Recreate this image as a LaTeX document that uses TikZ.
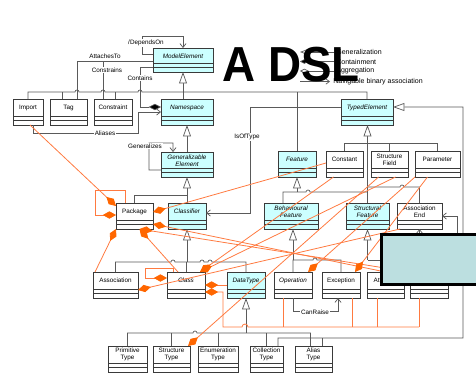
\documentclass[tikz,border=0pt]{standalone}
\usepackage{fontspec}
\setmainfont{Liberation Sans}
\usetikzlibrary{arrows.meta,calc,fit}
\definecolor{cyanbox}{HTML}{CCFFFF}
\definecolor{boxedge}{HTML}{3A3A3A}
\definecolor{wire}{HTML}{5A5A5A}
\definecolor{orwire}{HTML}{FF7A40}
\definecolor{ordia}{HTML}{FF6600}
\definecolor{coverfill}{HTML}{BCDFE0}

\tikzset{
  umlframe/.style={draw=boxedge, line width=0.5pt, inner sep=0pt, outer sep=0pt},
  umltext/.style={font=\fontsize{3.6}{4.1}\selectfont, align=center, inner sep=0pt},
  assoclabel/.style={font=\fontsize{3.6}{4.1}\selectfont, fill=white, inner sep=0.4pt},
  legendtext/.style={font=\fontsize{4}{4.5}\selectfont, inner sep=0pt, anchor=west},
  wireline/.style={draw=wire, line width=0.4pt},
  genarrow/.style={wireline, -{Triangle[length=6.5pt,width=4.5pt,fill=white]}},
  navarrow/.style={wireline, -{Straight Barb[length=2.2pt,width=3.5pt]}},
  ownline/.style={draw=orwire, line width=0.45pt},
  owner/.style={ownline, {Diamond[length=7.5pt,width=4.2pt,fill=ordia,color=ordia]}-},
}

% class box: name, x1, y1, x2, y2, fill, label
\newcommand\umlclass[7]{%
  \node[umlframe, fill=#6, fit={(#2,#3) (#4,#5)}] (#1) {};
  \draw[umlframe] ($(#1.south west)+(0,-9)$) -- ($(#1.south east)+(0,-9)$);
  \draw[umlframe] ($(#1.south west)+(0,-4.5)$) -- ($(#1.south east)+(0,-4.5)$);
  \node[umltext] (#1-name) at ($(#1.north)+(0,8.5)$) {#7};
}

\begin{document}
\begin{tikzpicture}[x=0.02cm, y=-0.02cm]
\useasboundingbox[fill=white] (0,0) rectangle (476,376);

% ---------- classes ----------
\umlclass{ModelElement}{153}{48}{213}{72}{cyanbox}{\itshape ModelElement}
\umlclass{Import}{13}{99}{43}{125}{white}{Import}
\umlclass{Tag}{50}{99}{87}{125}{white}{Tag}
\umlclass{Constraint}{94}{99}{132}{125}{white}{Constraint}
\umlclass{Namespace}{161}{99}{213}{125}{cyanbox}{\itshape Namespace}
\umlclass{TypedElement}{341}{99}{393}{125}{cyanbox}{\itshape TypedElement}
\umlclass{GenEl}{161}{152}{213}{177}{cyanbox}{\itshape Generalizable\\\itshape Element}
\umlclass{Feature}{278}{151}{316}{177}{cyanbox}{\itshape Feature}
\umlclass{Constant}{326}{151}{363}{177}{white}{Constant}
\umlclass{StructureField}{371}{151}{408}{177}{white}{Structure\\Field}
\umlclass{Parameter}{415}{151}{460}{177}{white}{Parameter}
\umlclass{Package}{116}{203}{153}{229}{white}{Package}
\umlclass{Classifier}{168}{203}{206}{229}{cyanbox}{\itshape Classifier}
\umlclass{BehFeature}{264}{203}{318}{229}{cyanbox}{\itshape Behavioural\\\itshape Feature}
\umlclass{StructFeature}{346}{203}{389}{229}{cyanbox}{\itshape Structural\\\itshape Feature}
\umlclass{AssocEnd}{397}{203}{442}{229}{white}{Association\\End}
\umlclass{Association}{93}{272}{138}{298}{white}{Association}
\umlclass{Class}{167}{272}{205}{298}{white}{\itshape Class}
\umlclass{DataType}{227}{272}{265}{298}{cyanbox}{\itshape DataType}
\umlclass{Operation}{274}{272}{312}{298}{white}{\itshape Operation}
\umlclass{Exception}{322}{272}{360}{298}{white}{Exception}
\umlclass{Attribute}{367}{272}{404}{298}{white}{Attribute}
\umlclass{Reference}{410}{272}{448}{298}{white}{}
\umlclass{PrimitiveType}{108}{346}{147}{372}{white}{Primitive\\Type}
\umlclass{StructureType}{153}{346}{190}{372}{white}{Structure\\Type}
\umlclass{EnumerationType}{198}{346}{238}{372}{white}{Enumeration\\Type}
\umlclass{CollectionType}{250}{346}{283}{372}{white}{Collection\\Type}
\umlclass{AliasType}{295}{346}{332}{372}{white}{Alias\\Type}

% ---------- bus heights ----------
\coordinate (gbus) at (0,92);
\coordinate (tebus) at (0,143);
\coordinate (fbus) at (0,192);
\coordinate (cbus) at (0,262);
\coordinate (bbus) at (0,260);
\coordinate (dbus) at (0,333);

% ---------- generalizations ----------
\draw[genarrow] (Namespace.north -| ModelElement.south) -- (ModelElement.south);
\draw[wireline] (Import.north) -- (28,92) -- (75,92) arc(180:0:0.04cm)
  -- (101,92) arc(180:0:0.04cm) -- (138,92) arc(180:0:0.04cm)
  -- (gbus -| TypedElement.north) -- (TypedElement.north);
\draw[wireline] ($(Tag.north)+(-6,0)$) -- ++(0,-7);
\draw[wireline] ($(Constraint.north)+(2,0)$) -- ++(0,-7);
\draw[wireline] (Feature.north) -- (Feature.north |- gbus);

\draw[genarrow] (GenEl.north) -- (GenEl.north |- Namespace.south);
\draw[genarrow] (Classifier.north) -- (Classifier.north |- GenEl.south);
\draw[wireline] (Package.north) |- ($(Classifier.north)+(0,-8)$);

\draw[genarrow] (StructFeature.north) -- (StructFeature.north |- TypedElement.south);
\draw[wireline] (Constant.north) |- (tebus -| Parameter.north) -- (Parameter.north);
\draw[wireline] (StructureField.north) -- (StructureField.north |- tebus);
\draw[wireline] (AssocEnd.north) -- (419.5,187) -- (404,187) arc(0:180:0.04cm)
  -- (367.5,187);

\draw[genarrow] ($(CollectionType.north)+(11.5,0)$) -- (278,338) -- (463,338)
  |- ($(TypedElement.north east)+(0,8)$);
\draw[wireline] ($(AliasType.north)+(8.5,0)$) -- ++(0,-8);

\draw[genarrow] (Feature.south |- fbus) -- (Feature.south);
\draw[wireline] ($(BehFeature.north)+(-8,0)$) -- (283,192) -- (306,192) arc(180:0:0.04cm)
  -- (fbus -| StructFeature.north);

\draw[genarrow] (Classifier.south |- cbus) -- (Classifier.south);
\draw[wireline] (Association.north) -- (115.5,262) -- (171,262) arc(180:0:0.04cm)
  -- (200,262) arc(180:0:0.04cm) -- (208,262) arc(180:0:0.04cm)
  -- (cbus -| DataType.north) -- (DataType.north);
\draw[wireline] (Class.north) -- (Class.north |- cbus);

\draw[genarrow] (Operation.north |- bbus) -- (Operation.north |- BehFeature.south);
\draw[wireline] (Operation.north) -- (293,260) -- (313,260) arc(180:0:0.04cm)
  -- (bbus -| Exception.north) -- (Exception.north);
\draw[genarrow] (StructFeature.south |- bbus) -- (StructFeature.south);
\draw[wireline] (Attribute.north) |- (bbus -| StructFeature.south);
\draw[wireline] (Reference.north) |- (bbus -| StructFeature.south);

\draw[genarrow] (DataType.south |- dbus) -- (DataType.south);
\draw[wireline] (PrimitiveType.north) -- (127.5,333) -- (193,333) arc(180:0:0.04cm)
  -- (310.5,333) -- ($(AliasType.north)+(-3,0)$);
\draw[wireline] (StructureType.north) -- (StructureType.north |- dbus);
\draw[wireline] (EnumerationType.north) -- (EnumerationType.north |- dbus);
\draw[wireline] (CollectionType.north) -- (CollectionType.north |- dbus);

% ---------- associations ----------
\draw[navarrow] ($(ModelElement.north west)+(0,6)$) -- (142,54) -- (142,36) -| (ModelElement.north);
\node[assoclabel] (dependsOn) at (146,43) {/DependsOn};
\draw[wireline] ($(Tag.north)+(8.5,0)$) |- ($(ModelElement.north west)+(0,13)$);
\node[assoclabel] (attachesTo) at (105,56) {AttachesTo};
\draw[wireline] ($(Constraint.north)+(-10,0)$) -- ++(0,-38);
\node[assoclabel] (constrains) at (107,70) {Constrains};
\draw[wireline, {Diamond[length=7pt,width=3.6pt,fill=black]}-]
  ($(Namespace.north west)+(0,8)$) -- (140,107) -- (140,67) -- ($(ModelElement.north west)+(0,19)$);
\node[assoclabel] (contains) at (140,78) {Contains};
\draw[navarrow] ($(Import.south)+(5,0)$) |- (138,133) |- ($(Namespace.north west)+(0,13)$);
\node[assoclabel] (aliases) at (105,133) {Aliases};
\draw[navarrow] ($(GenEl.north west)+(0,18)$) -- (149,170) -- (149,143) -| ($(GenEl.north west)+(12,0)$);
\node[assoclabel] (generalizes) at (145,146) {Generalizes};
\draw[navarrow] ($(TypedElement.north west)+(0,8)$) -| (250,213) -- ($(Classifier.north east)+(0,10)$);
\node[assoclabel] (isOfType) at (247,137) {IsOfType};
\draw[navarrow] (Operation.south) -- ++(0,13) -| ($(Exception.south)+(-3,0)$);
\node[assoclabel] (canRaise) at (315,312) {CanRaise};
\draw[navarrow] (Reference.east) -- ++(9,0) |- (AssocEnd.east);
\draw[navarrow] (Reference.north -| AssocEnd.south) -- (AssocEnd.south);

% ---------- containment ----------
\draw[owner] ($(Package.north west)+(0,3)$) -- ($(Import.south)+(2,0)$);
\draw[owner] ($(Package.north west)+(0,12)$) -- (95,215) -- (95,190) -| ($(Package.north west)+(9,0)$);
\draw[owner] (Package.south west) -- ($(Association.north west)+(2,0)$);
\draw[owner] ($(Package.south)+(5,0)$) -- ($(Class.north)+(-8,0)$);
\draw[owner] ($(Package.south)+(5,0)$) -- (Reference.north west);
\draw[owner] ($(Package.south east)+(0,-5)$) -- (Attribute.north);
\draw[owner] ($(Package.north east)+(0,9)$) -- ($(Constant.north west)+(0,12)$);
\draw[owner] ($(Class.north east)+(-5,0)$) -- ($(Constant.south)+(-11,0)$);
\draw[owner] ($(Class.north east)+(-5,0)$) -- ($(StructureField.south)+(6,0)$);
\draw[owner] ($(Class.north west)+(0,6)$) -- (145,278) -- (145,268) -| ($(Class.north west)+(6,0)$);
\draw[owner] ($(Association.north east)+(0,18)$) -- ($(AssocEnd.south west)+(3,0)$);
\draw[owner] ($(Class.north east)+(0,13)$) -- ($(DataType.north west)+(0,13)$);
\draw[owner] ($(Class.north east)+(0,20)$) -- (223,292) -- (223,327) -- (242,327)
  arc(180:0:0.06cm) -- (419,327);
\draw[ownline] ($(Operation.south)+(-10,0)$) -- ++(0,29);
\draw[ownline] ($(Exception.south)+(11,0)$) -- ++(0,29);
\draw[ownline] ($(Attribute.south)+(-8.5,0)$) -- ++(0,29);
\draw[ownline] ($(Reference.south)+(-10,0)$) -- ++(0,29);
\draw[owner] ($(StructureType.north east)+(-2,0)$) -- ($(StructureField.south)+(-11,0)$);
\draw[owner] ($(Operation.north east)+(-4,0)$) -- (Parameter.south west);
\draw[owner] ($(Exception.north east)+(-5,0)$) -- ($(Parameter.south)+(-10,0)$);

% ---------- legend ----------
\coordinate (legend) at (300,52);
\draw[wireline, {Triangle[length=4pt,width=3pt,fill=white]}-] (legend) -- ++(34,0);
\draw[wireline, {Diamond[length=5pt,width=2.6pt,fill=black]}-] ($(legend)+(0,9.5)$) -- ++(34,0);
\draw[wireline, {Diamond[length=5pt,width=2.6pt,fill=white]}-] ($(legend)+(0,19)$) -- ++(34,0);
\draw[wireline, -{Straight Barb[length=2pt,width=3pt]}] ($(legend)+(0,29.5)$) -- ++(30,0);
\node[legendtext] (lgGen) at ($(legend)+(36,0)$) {Generalization};
\node[legendtext] (lgCont) at ($(legend)+(36,9.5)$) {Containment};
\node[legendtext] (lgAgg) at ($(legend)+(36,19)$) {Aggregation};
\node[legendtext] (lgNav) at ($(legend)+(33,29.5)$) {Navigable binary association};

% ---------- title ----------
\node[font=\fontsize{28}{28}\selectfont\bfseries, inner sep=0pt, xscale=0.93] (title) at (291,65) {A DSL};

% ---------- cover panel ----------
\node[draw=black, line width=1.7pt, fill=coverfill, inner sep=0pt, fit={(381,234) (492,284)}] (cover) {};
\end{tikzpicture}
\end{document}
